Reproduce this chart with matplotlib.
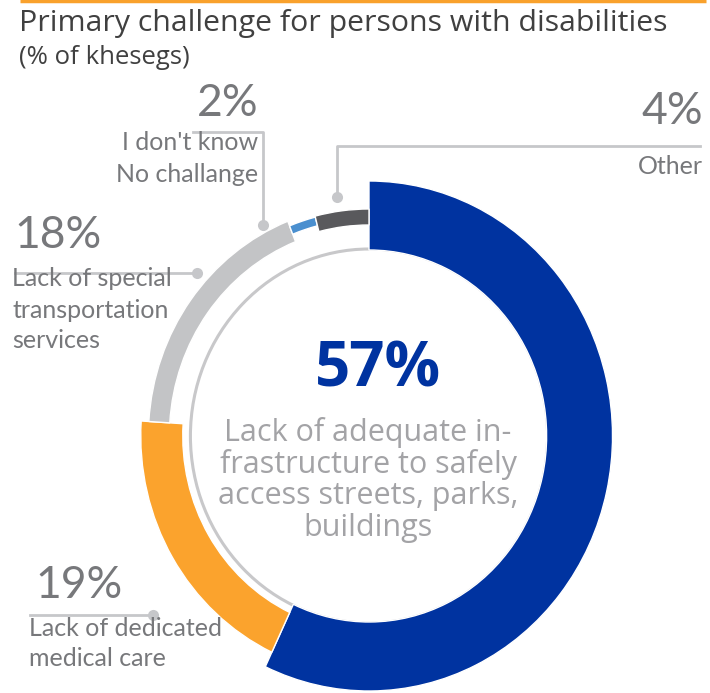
import numpy as np
import matplotlib.pyplot as plt
from matplotlib.patches import Wedge, Circle

# share of khesegs per primary challenge, clockwise from 12 o'clock
categories = ["Lack of adequate infrastructure", "Lack of dedicated medical care",
              "Lack of special transportation services", "I don't know / No challange", "Other"]
values = [57, 19, 18, 2, 4]
colors = ["#0033a0", "#fba32d", "#c3c4c6", "#4a8fcf", "#59595c"]
# (outer radius, ring width) for each segment
rings = [(255, 69), (239, 44), (231, 22), (226, 9), (227, 16)]

SX = 0.955          # the ring is a little narrower than it is tall
def px(x):
    return x / SX

cx, cy = px(369), 436
label_col = "#77787b"
line_col = "#c6c7ca"

fig = plt.figure(figsize=(7.10, 6.93), dpi=100)
ax = fig.add_axes([0, 0, 1, 1])
ax.set_xlim(0, px(710))
ax.set_ylim(693, 0)
ax.axis("off")

# thin guide circle inside the ring
ax.add_patch(Circle((cx, cy), 187, fill=False, ec="#c8c8ca", lw=2.2, zorder=1))

# y axis is flipped, so increasing angle runs clockwise on screen
start = -90.0
for v, c, (r, w) in zip(values, colors, rings):
    sweep = v / sum(values) * 360
    ax.add_patch(Wedge((cx, cy), r, start, start + sweep, width=w,
                       fc=c, ec="white", lw=1.0, zorder=2))
    start += sweep

# title block
ax.plot([px(20), px(706)], [1, 1], color="#f9a12c", lw=2.5, solid_capstyle="butt")
ax.text(px(19), 24, "Primary challenge for persons with disabilities", fontsize=21.8,
        family="Open Sans", color="#404040", va="center", ha="left")
ax.text(px(19), 57, "(% of khesegs)", fontsize=18.5, family="Open Sans",
        color="#404040", va="center", ha="left")

# centre callout for the largest share
ax.text(px(378), 370, f"{values[0]}%", fontsize=44.5, family="Open Sans", weight="bold",
        color=colors[0], ha="center", va="center")
desc = ["Lack of adequate in-", "frastructure to safely", "access streets, parks,", "buildings"]
for i, line in enumerate(desc):
    ax.text(px(368), 432 + i * 32, line, fontsize=22, family="Open Sans",
            color="#a3a3a6", ha="center", va="center")

lab = dict(family="Lato", color=label_col)

# Other
ax.plot([px(337), px(337), px(700)], [197, 146, 146], color=line_col, lw=2, zorder=0)
ax.plot(px(337), 197, "o", ms=8, color=line_col, mec="none")
ax.text(px(703), 111, f"{values[4]}%", fontsize=32, ha="right", va="center", **lab)
ax.text(px(703), 166, "Other", fontsize=18, ha="right", va="center", **lab)

# I don't know / No challange
ax.plot([px(263), px(263), px(193)], [225, 132, 132], color=line_col, lw=2, zorder=0)
ax.plot(px(263), 225, "o", ms=8, color=line_col, mec="none")
ax.text(px(258), 103, f"{values[3]}%", fontsize=32, ha="right", va="center", **lab)
ax.text(px(258), 143, "I don't know", fontsize=18, ha="right", va="center", **lab)
ax.text(px(258), 175, "No challange", fontsize=18, ha="right", va="center", **lab)

# transportation
ax.plot([px(15), px(197)], [273, 273], color=line_col, lw=2, zorder=0)
ax.plot(px(197), 273, "o", ms=8, color=line_col, mec="none")
ax.text(px(14), 236, f"{values[2]}%", fontsize=32, ha="left", va="center", **lab)
for i, line in enumerate(["Lack of special", "transportation", "services"]):
    ax.text(px(12), 279 + i * 31, line, fontsize=18, ha="left", va="center", **lab)

# medical care
ax.plot([px(30), px(153)], [615, 615], color=line_col, lw=2, zorder=0)
ax.plot(px(153), 615, "o", ms=8, color=line_col, mec="none")
ax.text(px(35), 586, f"{values[1]}%", fontsize=32, ha="left", va="center", **lab)
for i, line in enumerate(["Lack of dedicated", "medical care"]):
    ax.text(px(29), 628 + i * 31, line, fontsize=18, ha="left", va="center", **lab)

fig.savefig("out.png", dpi=100)
